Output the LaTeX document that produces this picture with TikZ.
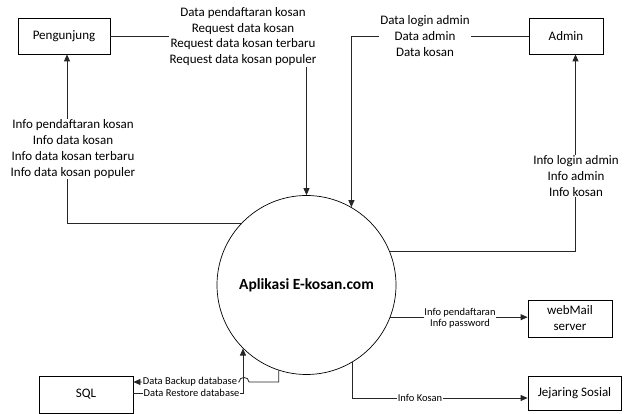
\documentclass[tikz,border=0pt]{standalone}
\usepackage{fontspec}
\setmainfont{Carlito}
\usetikzlibrary{arrows.meta}
\begin{document}
\begin{tikzpicture}[x=1pt,y=-1pt,
  ent/.style={draw=black, line width=0.8pt, minimum height=36pt, inner sep=0pt, font=\fontsize{13}{16}\selectfont, align=center},
  flow/.style={draw=black!85, line width=0.8pt},
  arr/.style={-{Triangle[length=7pt,width=6pt]}},
  lbl/.style={fill=white, inner sep=1pt, align=center, font=\fontsize{13}{15.8}\selectfont},
  slbl/.style={fill=white, inner sep=0.5pt, align=center, font=\fontsize{10.5}{11}\selectfont},
  proc/.style={draw=black, line width=0.7pt, circle, minimum size=179pt, inner sep=0pt, font=\bfseries\fontsize{15.5}{18}\selectfont}]
\useasboundingbox (0,0) rectangle (627,414);

\node[ent, minimum width=92pt] (pg) at (64,36) {Pengunjung};
\node[ent, minimum width=74pt] (ad) at (566,36) {Admin};
\node[ent, minimum width=84pt, minimum height=37pt] (wm) at (570,318.5) {webMail\\server};
\node[ent, minimum width=93pt, minimum height=34pt] (js) at (574.5,393) {Jejaring Sosial};
\node[ent, minimum width=94pt, minimum height=37pt] (sql) at (86,394.5) {SQL};
\node[proc] (c) at (306.5,285) {Aplikasi E-kosan.com};

% Pengunjung -> process
\draw[flow,arr] (pg.east) -- (c.north |- pg.east) -- (c.north);
\node[lbl] (l1) at (243,36.5) {Data pendaftaran kosan\\Request data kosan\\Request data kosan terbaru\\Request data kosan populer};

% Admin -> process
\draw[flow,arr] (ad.west) -| (c.60.9);
\node[lbl] (l2) at (425,36) {Data login admin\\Data admin\\Data kosan};

% process -> Pengunjung
\draw[flow,arr] (c.137) -| ([xshift=3pt]pg.south);
\node[lbl] (l3) at (73,149) {Info pendaftaran kosan\\Info data kosan\\Info data kosan terbaru\\Info data kosan populer};

% process -> Admin
\draw[flow,arr] (c.22.3) -| ([xshift=9.5pt]ad.south);
\node[lbl] (l4) at (576,176) {Info login admin\\Info admin\\Info kosan};

% process -> webMail
\draw[flow,arr] (c.-21.6) -- (wm.west |- c.-21.6);
\node[slbl] (l5) at (460,318.5) {Info pendaftaran\\Info password};

% process -> Jejaring Sosial
\draw[flow,arr] (c.-59.5) |- ([yshift=-5pt]js.west);
\node[slbl] (l6) at (420,398) {Info Kosan};

% SQL -> process (restore)
\draw[flow,arr] ([yshift=1.5pt]sql.east) -| (c.225.7);
% process -> SQL (backup) with line hop
\coordinate (hr) at (249,382);
\coordinate (hl) at (239,382);
\draw[flow,arr] (c.252.1) |- (hr) .. controls (249,376) and (239,376) .. (hl) -- ([yshift=12.5pt]sql.east);
\node[slbl] (l7) at (190,382) {Data Backup database};
\node[slbl] (l8) at (191.5,393) {Data Restore database};
\end{tikzpicture}
\end{document}
